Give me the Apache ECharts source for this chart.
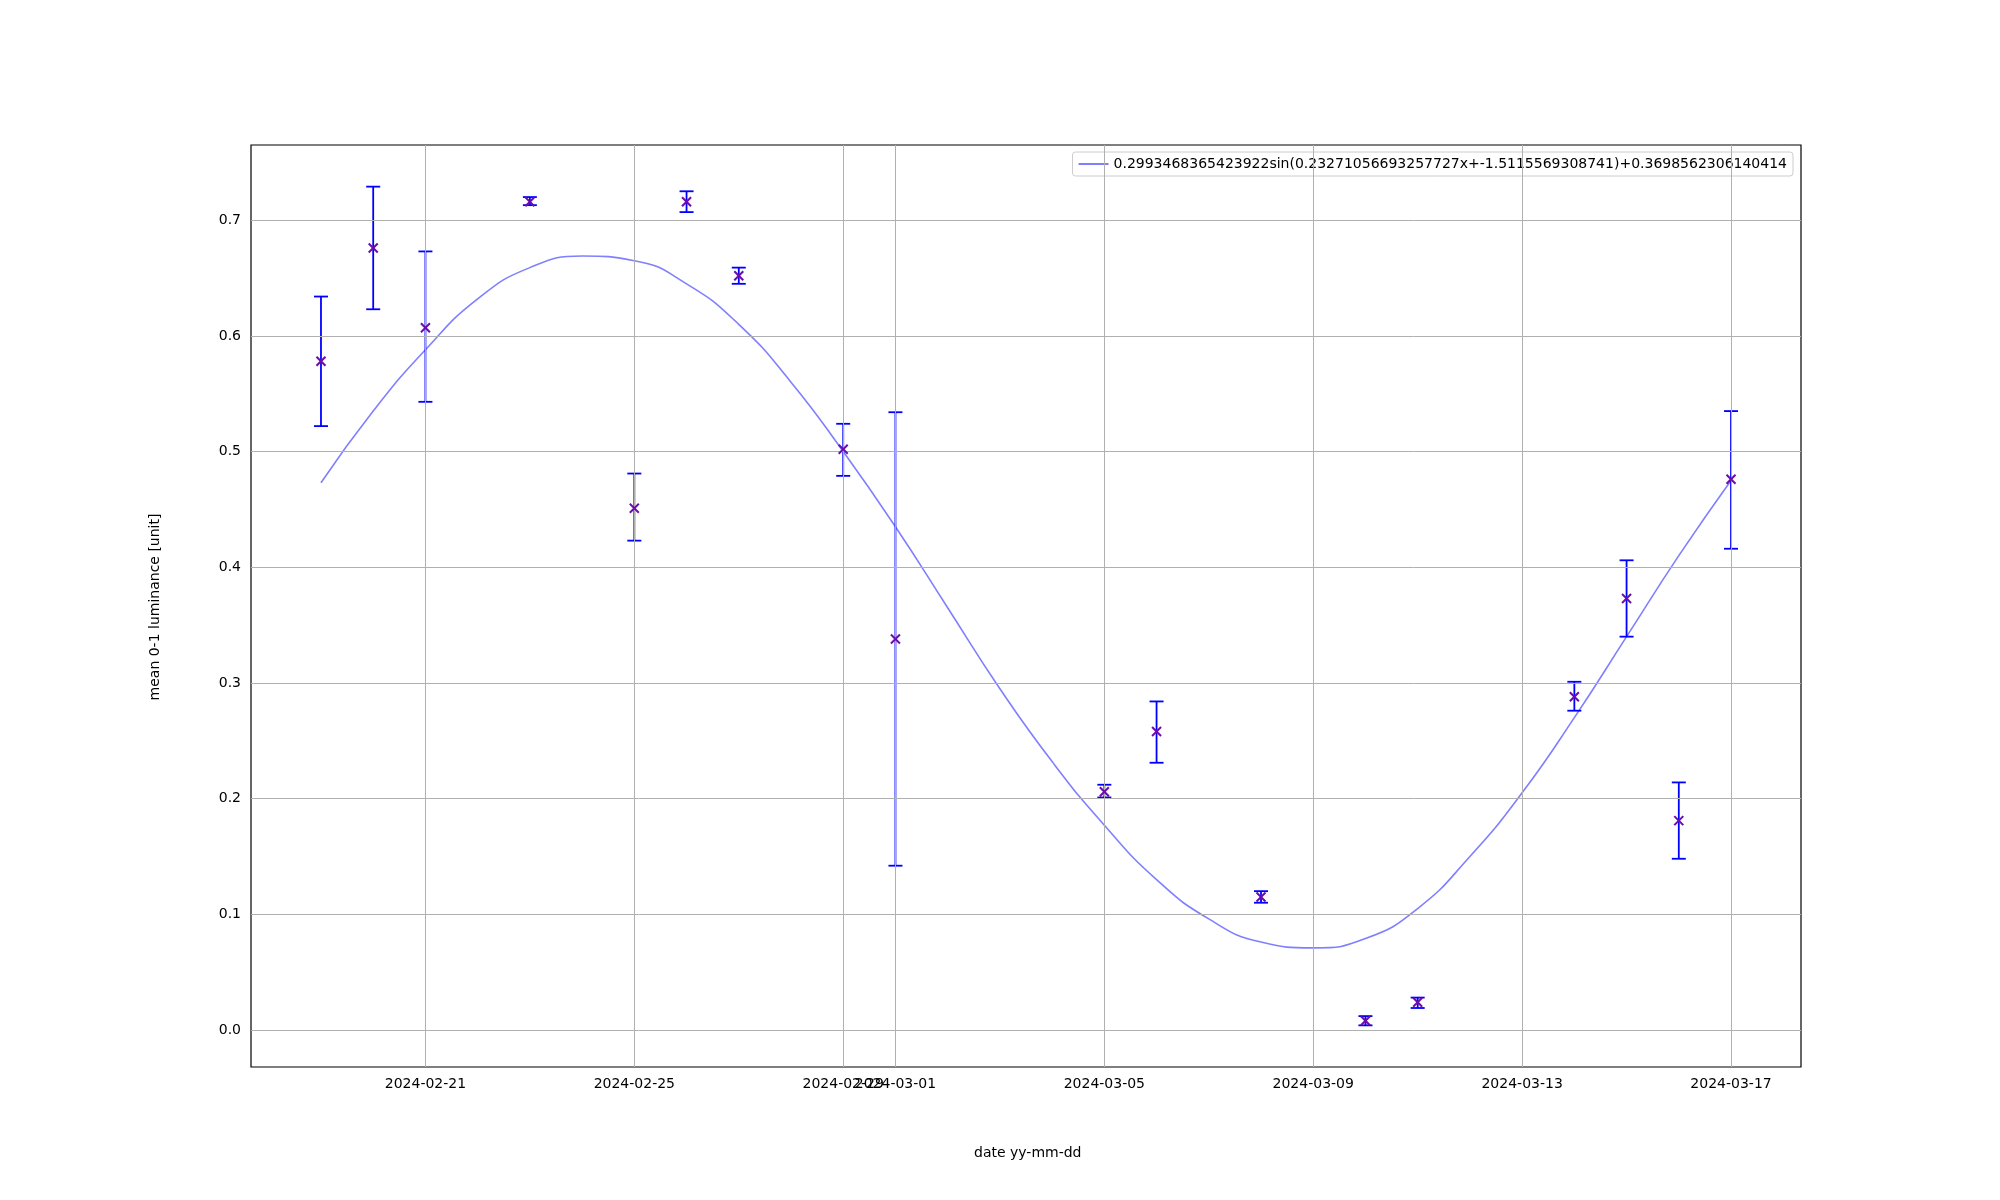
<!DOCTYPE html>
<html><head><meta charset="utf-8">
<script src="https://cdn.jsdelivr.net/npm/echarts@6/dist/echarts.min.js"></script>
<style>html,body{margin:0;padding:0;background:#fff}#c{width:2000px;height:1200px}</style>
</head><body><div id="c"></div>
<script>
const startDate = Date.UTC(2024,1,19);
const obsDays = [0,1,2,4,6,7,8,10,11,15,16,18,20,21,24,25,26,27];
const obsMean = [0.578,0.676,0.607,0.716,0.451,0.716,0.652,0.502,0.338,0.206,0.258,0.115,0.008,0.024,0.288,0.373,0.181,0.476];
const obsLow  = [0.522,0.623,0.543,0.713,0.423,0.707,0.645,0.479,0.142,0.201,0.231,0.110,0.004,0.019,0.276,0.340,0.148,0.416];
const obsHigh = [0.634,0.729,0.673,0.720,0.481,0.725,0.659,0.524,0.534,0.212,0.284,0.120,0.012,0.028,0.301,0.406,0.214,0.535];
const fitDays = [0,1,2,3,4,5,6,7,8,9,10,11,12,13,14,15,16,17,18,19,20,21,22,23,24,25,26,27];
const fitVals = [0.473,0.535,0.588,0.632,0.659,0.669,0.665,0.645,0.610,0.560,0.500,0.435,0.365,0.295,0.232,0.177,0.130,0.096,0.076,0.071,0.079,0.105,0.150,0.205,0.270,0.340,0.410,0.475];
const xTicks = [2,6,10,11,15,19,23,27];
const yTicks = [0,0.1,0.2,0.3,0.4,0.5,0.6,0.7];
const legendText = '0.2993468365423922sin(0.23271056693257727x+-1.5115569308741)+0.3698562306140414';

function fmt(d){const t=new Date(startDate+d*86400000);return t.getUTCFullYear()+'-'+String(t.getUTCMonth()+1).padStart(2,'0')+'-'+String(t.getUTCDate()).padStart(2,'0');}
const ch = echarts.init(document.getElementById('c'));
const font = 'DejaVu Sans';
ch.setOption({
  animation:false,
  grid:{left:251,right:199,top:145,bottom:133,show:true,borderColor:'#000',borderWidth:1.2},
  xAxis:{type:'value',min:-1.34,max:28.34,
    axisLine:{show:false},
    axisTick:{show:true,customValues:xTicks,length:5,lineStyle:{color:'#000'}},
    axisLabel:{customValues:xTicks,formatter:v=>fmt(v),color:'#000',fontFamily:font,fontSize:14,margin:10},
    splitLine:{show:false}},
  yAxis:{type:'value',min:-0.032,max:0.765,
    axisLine:{show:false},
    axisTick:{show:true,customValues:yTicks,length:5,lineStyle:{color:'#000'}},
    axisLabel:{customValues:yTicks,formatter:v=>v.toFixed(1),color:'#000',fontFamily:font,fontSize:14,margin:10},
    splitLine:{show:false}},
  legend:{right:207,top:152,orient:'vertical',itemWidth:30,itemHeight:2,
    backgroundColor:'rgba(255,255,255,0.8)',borderColor:'#ccc',borderWidth:1,borderRadius:3,padding:[5,6],
    textStyle:{fontFamily:font,fontSize:14,color:'#000'},
    data:[{name:legendText,icon:'rect'}]},
  graphic:[
    {type:'text',left:1036-62,top:1146,style:{text:'date yy-mm-dd',font:'14px DejaVu Sans',fill:'#000'}},
    {type:'text',x:155,y:607,rotation:Math.PI/2,style:{text:'mean 0-1 luminance [unit]',font:'14px DejaVu Sans',fill:'#000',align:'center',verticalAlign:'middle'}}
  ],
  series:[
    {type:'line',name:'grid',data:[],silent:true,
      markLine:{silent:true,symbol:'none',label:{show:false},lineStyle:{color:'#b0b0b0',width:1,type:'solid'},
        data:xTicks.map(v=>({xAxis:v})).concat(yTicks.map(v=>({yAxis:v})))}},
    {type:'line',name:legendText,data:fitDays.map((d,i)=>[d,fitVals[i]]),smooth:0.5,showSymbol:false,
      lineStyle:{color:'rgba(0,0,255,0.5)',width:1.6},itemStyle:{color:'rgba(0,0,255,0.5)'},z:3},
    {type:'custom',name:'err',data:obsDays.map((d,i)=>[d,obsLow[i],obsHigh[i]]),z:4,
      renderItem:(p,api)=>{const a=api.coord([api.value(0),api.value(1)]),b=api.coord([api.value(0),api.value(2)]);
        const s={stroke:'#0000ff',lineWidth:1.8};
        return {type:'group',children:[
          {type:'line',shape:{x1:a[0],y1:a[1],x2:b[0],y2:b[1]},style:s},
          {type:'line',shape:{x1:a[0]-7,y1:a[1],x2:a[0]+7,y2:a[1]},style:s},
          {type:'line',shape:{x1:b[0]-7,y1:b[1],x2:b[0]+7,y2:b[1]},style:s}]};}},
    {type:'custom',name:'pts',data:obsDays.map((d,i)=>[d,obsMean[i]]),z:5,
      renderItem:(p,api)=>{const c=api.coord([api.value(0),api.value(1)]);const r=4.5;
        const s={stroke:'#6a0dad',lineWidth:2};
        return {type:'group',children:[
          {type:'line',shape:{x1:c[0]-r,y1:c[1]-r,x2:c[0]+r,y2:c[1]+r},style:s},
          {type:'line',shape:{x1:c[0]-r,y1:c[1]+r,x2:c[0]+r,y2:c[1]-r},style:s}]};}}
  ]
});
</script></body></html>
